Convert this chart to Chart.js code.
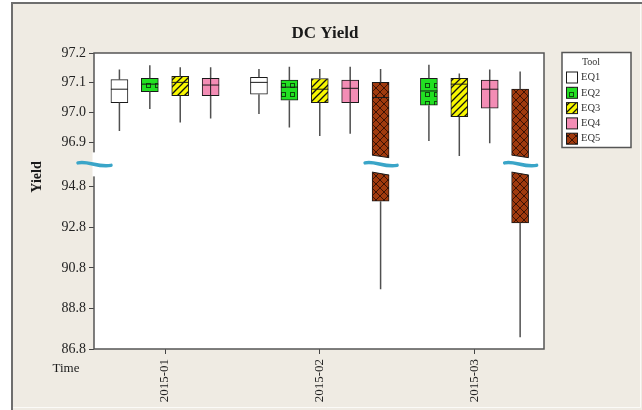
<!DOCTYPE html>
<html>
<head>
<meta charset="utf-8">
<script src="https://cdn.jsdelivr.net/npm/chart.js@4"></script>
<style>
  body { margin: 0; background: #ffffff; }
  #wrap { width: 642px; height: 410px; }
</style>
</head>
<body>
<div id="wrap"><canvas id="yield-chart" width="642" height="410"></canvas></div>
<script>
// DC Yield - boxplot per tool and month, y axis broken between 94.8 and 96.9

const months = ['2015-01', '2015-02', '2015-03'];
const tools = ['EQ1', 'EQ2', 'EQ3', 'EQ4', 'EQ5'];

// [min, q1, median, q3, max] per month, null = no data for that month
const eq1 = [[96.937, 97.033, 97.078, 97.110, 97.144], [96.994, 97.061, 97.101, 97.118, 97.146], null];
const eq2 = [[97.011, 97.070, 97.095, 97.115, 97.159], [96.949, 97.041, 97.085, 97.109, 97.154], [96.903, 97.024, 97.072, 97.115, 97.160]];
const eq3 = [[96.966, 97.056, 97.101, 97.121, 97.152], [96.920, 97.033, 97.078, 97.114, 97.146], [96.853, 96.985, 97.095, 97.115, 97.131]];
const eq4 = [[96.979, 97.056, 97.092, 97.115, 97.152], [96.928, 97.033, 97.081, 97.109, 97.154], [96.896, 97.014, 97.078, 97.109, 97.144]];
const eq5 = [null, [89.75, 94.09, 97.050, 97.101, 97.146], [87.38, 93.02, 96.50, 97.078, 97.138]];

const yTicks = [86.8, 88.8, 90.8, 92.8, 94.8, 96.9, 97.0, 97.1, 97.2];
const yTickLabels = ['86.8', '88.8', '90.8', '92.8', '94.8', '96.9', '97.0', '97.1', '97.2'];

const toolStats = [eq1, eq2, eq3, eq4, eq5];

// broken axis: lower part 86.8..95.9, upper part 96.825..97.2
const BREAK_LOW = 95.904;
const BREAK_HIGH = 96.8246;
const BREAK_AT = 184;
function toAxis(v) {
    if (v >= BREAK_HIGH) return BREAK_AT + (v - BREAK_HIGH) * 295.7;
    if (v <= BREAK_LOW) return (v - 86.8) * 20.21;
    return BREAK_AT;
}

// boxes of one month are centred on the month tick
const groupStep = 0.1965;
function boxPos(m, t) {
    const present = [];
    toolStats.forEach((s, k) => { if (s[m]) present.push(k); });
    const j = present.indexOf(t);
    return m + (j - (present.length - 1) / 2) * groupStep;
}

function makePattern(bg, size, draw) {
    const c = document.createElement('canvas');
    c.width = size; c.height = size;
    const g = c.getContext('2d');
    g.fillStyle = bg;
    g.fillRect(0, 0, size, size);
    if (draw) draw(g, size);
    return g.createPattern(c, 'repeat');
}

const fills = [
    '#ffffff',
    makePattern('#22e022', 9, (g) => {
        g.strokeStyle = '#0b4d0b'; g.lineWidth = 1;
        g.strokeRect(2.5, 2.5, 4, 4);
    }),
    makePattern('#f7f700', 7, (g, s) => {
        g.strokeStyle = '#111'; g.lineWidth = 1.3;
        g.beginPath();
        g.moveTo(0, s); g.lineTo(s, 0);
        g.moveTo(-1, 1); g.lineTo(1, -1);
        g.moveTo(s - 1, s + 1); g.lineTo(s + 1, s - 1);
        g.stroke();
    }),
    '#f38db5',
    makePattern('#a03a0e', 8, (g, s) => {
        g.strokeStyle = '#3c1204'; g.lineWidth = 1;
        g.beginPath();
        g.moveTo(0, 0); g.lineTo(s, s);
        g.moveTo(s, 0); g.lineTo(0, s);
        g.stroke();
    })
];

const datasets = tools.map((name, t) => ({
    label: name,
    data: months.map((m, i) => toolStats[t][i]
        ? { x: boxPos(i, t), y: [toAxis(toolStats[t][i][1]), toAxis(toolStats[t][i][3])] }
        : null).filter(Boolean),
    backgroundColor: fills[t],
    borderColor: '#1a1a1a',
    borderWidth: 1,
    borderSkipped: false,
    barThickness: 17,
    grouped: false
}));

const SERIF = '"Liberation Serif", "DejaVu Serif", serif';

function squiggle(ctx, x0, x1, yc) {
    const w = x1 - x0;
    ctx.beginPath();
    ctx.moveTo(x0, yc - 1.5);
    ctx.bezierCurveTo(x0 + w * 0.3, yc - 4, x0 + w * 0.6, yc + 3.5, x1, yc + 1);
    ctx.stroke();
}

const boxPlot = {
    id: 'boxPlot',
    beforeDraw(chart) {
        const { ctx, chartArea: a } = chart;
        ctx.save();
        ctx.fillStyle = '#ffffff';
        ctx.fillRect(0, 0, chart.width, chart.height);
        ctx.fillStyle = '#efebe3';
        ctx.fillRect(12, 3, chart.width - 12, chart.height - 3);
        ctx.strokeStyle = '#6e6e6e';
        ctx.lineWidth = 2;
        ctx.beginPath();
        ctx.moveTo(12, chart.height); ctx.lineTo(12, 3); ctx.lineTo(chart.width, 3);
        ctx.stroke();
        ctx.strokeStyle = '#fbfaf7';
        ctx.lineWidth = 1;
        ctx.beginPath();
        ctx.moveTo(13, chart.height - 2.5); ctx.lineTo(chart.width - 1.5, chart.height - 2.5); ctx.lineTo(chart.width - 1.5, 4);
        ctx.stroke();
        ctx.fillStyle = '#ffffff';
        ctx.fillRect(a.left, a.top, a.right - a.left, a.bottom - a.top);
        ctx.restore();
    },
    afterDatasetsDraw(chart) {
        const { ctx, chartArea: a } = chart;
        const xs = chart.scales.x, ys = chart.scales.y;
        const yBreak = ys.getPixelForValue(BREAK_AT);
        ctx.save();
        toolStats.forEach((stats, t) => {
            stats.forEach((s, m) => {
                if (!s) return;
                const x = xs.getPixelForValue(boxPos(m, t));
                const h = 8.5;
                const py = s.map(v => ys.getPixelForValue(toAxis(v)));
                // whiskers
                ctx.strokeStyle = '#505050';
                ctx.lineWidth = 1.5;
                ctx.beginPath();
                ctx.moveTo(x, py[4]); ctx.lineTo(x, py[3]);
                ctx.moveTo(x, py[1]); ctx.lineTo(x, py[0]);
                ctx.stroke();
                // median
                ctx.strokeStyle = '#1a1a1a';
                ctx.lineWidth = 1;
                ctx.beginPath();
                ctx.moveTo(x - h, py[2]); ctx.lineTo(x + h, py[2]);
                if (t === 3) { ctx.moveTo(x, py[3]); ctx.lineTo(x, py[1]); }
                ctx.stroke();
                // box crossing the break
                if (s[1] < BREAK_LOW && s[3] > BREAK_HIGH) {
                    ctx.fillStyle = '#ffffff';
                    ctx.beginPath();
                    ctx.moveTo(x - h - 1, yBreak - 9.3);
                    ctx.lineTo(x + h + 1, yBreak - 6.7);
                    ctx.lineTo(x + h + 1, yBreak + 10.7);
                    ctx.lineTo(x - h - 1, yBreak + 7.7);
                    ctx.closePath();
                    ctx.fill();
                    ctx.strokeStyle = '#1a1a1a';
                    ctx.lineWidth = 1;
                    ctx.beginPath();
                    ctx.moveTo(x - h, yBreak - 9.3); ctx.lineTo(x + h, yBreak - 6.7);
                    ctx.moveTo(x - h, yBreak + 7.7); ctx.lineTo(x + h, yBreak + 10.7);
                    ctx.stroke();
                    ctx.strokeStyle = '#3aa5c8';
                    ctx.lineWidth = 3.5;
                    ctx.lineCap = 'round';
                    squiggle(ctx, x - h - 7, x + h + 8, yBreak);
                    ctx.lineCap = 'butt';
                }
            });
        });
        // plot frame
        ctx.strokeStyle = '#555555';
        ctx.lineWidth = 1.5;
        ctx.strokeRect(a.left, a.top, a.right - a.left, a.bottom - a.top);
        // gap in the left axis
        ctx.fillStyle = '#ffffff';
        ctx.fillRect(a.left - 1.5, yBreak - 12, 3, 24);
        ctx.strokeStyle = '#3aa5c8';
        ctx.lineWidth = 3.5;
        ctx.lineCap = 'round';
        squiggle(ctx, a.left - 16, a.left + 17, yBreak);
        ctx.restore();
    },
    afterDraw(chart) {
        const { ctx } = chart;
        ctx.save();
        ctx.fillStyle = '#1a1a1a';
        ctx.textAlign = 'center';
        ctx.textBaseline = 'middle';
        ctx.font = 'bold 17px ' + SERIF;
        ctx.fillText('DC Yield', 325, 34);
        ctx.font = '13px ' + SERIF;
        ctx.fillText('Time', 66, 369);
        ctx.save();
        ctx.translate(37, 177);
        ctx.rotate(-Math.PI / 2);
        ctx.font = 'bold 14px ' + SERIF;
        ctx.fillText('Yield', 0, 0);
        ctx.restore();

        // legend
        const lx = 562, ly = 52.5, lw = 69, lh = 95;
        ctx.fillStyle = '#ffffff';
        ctx.fillRect(lx, ly, lw, lh);
        ctx.strokeStyle = '#555555';
        ctx.lineWidth = 1.5;
        ctx.strokeRect(lx, ly, lw, lh);
        ctx.fillStyle = '#333';
        ctx.font = '10px ' + SERIF;
        ctx.fillText('Tool', 591, 62);
        ctx.textAlign = 'left';
        chart.data.datasets.forEach((ds, i) => {
            const cy = 77.5 + i * 15.3;
            ctx.fillStyle = ds.backgroundColor;
            ctx.fillRect(566.5, cy - 5.5, 11, 11);
            ctx.strokeStyle = '#1a1a1a';
            ctx.lineWidth = 1;
            ctx.strokeRect(566.5, cy - 5.5, 11, 11);
            ctx.fillStyle = '#333';
            ctx.font = '10.5px ' + SERIF;
            ctx.fillText(ds.label, 581, cy);
        });
        ctx.restore();
    }
};

const ctx = document.getElementById('yield-chart').getContext('2d');

new Chart(ctx, {
    type: 'bar',
    data: { datasets: datasets },
    options: {
        responsive: false,
        animation: false,
        layout: { padding: { left: 12, top: 53, right: 98, bottom: 0 } },
        plugins: {
            legend: { display: false },
            tooltip: { enabled: false },
            title: { display: false }
        },
        scales: {
            x: {
                type: 'linear',
                offset: false,
                min: -0.459,
                max: 2.449,
                afterBuildTicks: (scale) => { scale.ticks = months.map((m, i) => ({ value: i })); },
                afterFit: (scale) => { scale.height = 61; },
                grid: { display: true, drawOnChartArea: false, drawTicks: true, tickLength: 5, color: '#444', offset: false },
                border: { display: false },
                ticks: {
                    autoSkip: false,
                    minRotation: 90,
                    maxRotation: 90,
                    padding: 5,
                    color: '#222',
                    font: { family: SERIF, size: 13 },
                    callback: (value) => months[value]
                }
            },
            y: {
                type: 'linear',
                min: 0,
                max: toAxis(97.2),
                afterBuildTicks: (scale) => { scale.ticks = yTicks.map(v => ({ value: toAxis(v) })); },
                afterFit: (scale) => { scale.width = 82; },
                grid: { display: true, drawOnChartArea: false, drawTicks: true, tickLength: 5, color: '#444' },
                border: { display: false },
                ticks: {
                    autoSkip: false,
                    padding: 3,
                    color: '#222',
                    font: { family: SERIF, size: 14 },
                    callback: (value, index) => yTickLabels[index]
                }
            }
        }
    },
    plugins: [boxPlot]
});
</script>
</body>
</html>
